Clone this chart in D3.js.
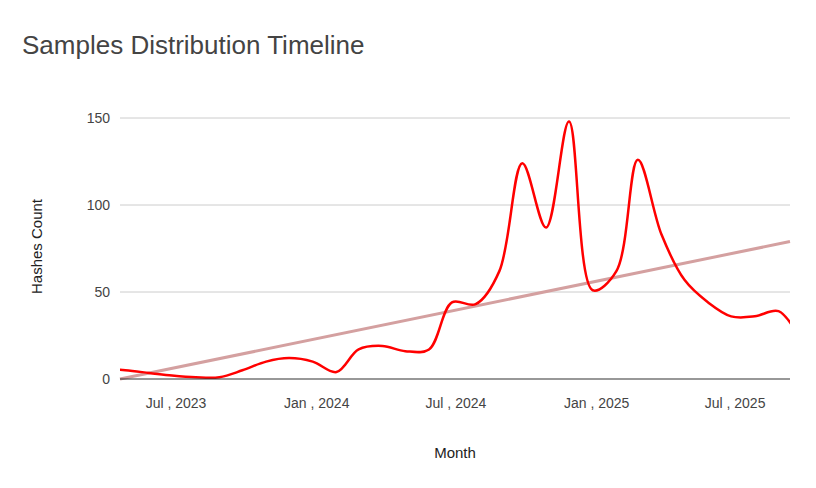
<!DOCTYPE html>
<html><head><meta charset="utf-8">
<script src="https://cdn.jsdelivr.net/npm/d3@7"></script>
<style>body{margin:0;background:#fff;font-family:"Liberation Sans",Arial,sans-serif}</style>
</head><body>
<script>
// monthly sample counts, Apr 2023 .. Oct 2025
const months = ["2023-04","2023-05","2023-06","2023-07","2023-08","2023-09","2023-10","2023-11","2023-12",
  "2024-01","2024-02","2024-03","2024-04","2024-05","2024-06","2024-07","2024-08","2024-09","2024-10","2024-11","2024-12",
  "2025-01","2025-02","2025-03","2025-04","2025-05","2025-06","2025-07","2025-08","2025-09","2025-10"];
const counts = [6,5,3.5,2,1,1,5,10,12,10,4,17,19,16,17,44,43,62,124,87,148,51,62,126,83,57,44,36,36,39,22];
const trendValues = [0, 79];
const yTicks = [0, 50, 100, 150];
const xTicks = ["2023-07","2024-01","2024-07","2025-01","2025-07"];

const W = 816, H = 488;
const mLeft = 120, mRight = 790, mTop = 118, mBottom = 379;
const parse = d3.timeParse("%Y-%m");
const fmt = d3.timeFormat("%b , %Y");

const x = d3.scaleTime()
  .domain([new Date(2023, 3, 24), new Date(2025, 8, 16)])
  .range([mLeft, mRight]);
const y = d3.scaleLinear().domain([0, 150]).range([mBottom, mTop]);

const svg = d3.select("body").append("svg").attr("width", W).attr("height", H);

svg.append("text").attr("x", 22).attr("y", 54)
  .style("font-size", "26px").style("fill", "#444").text("Samples Distribution Timeline");

// gridlines
svg.selectAll(".grid").data(yTicks.filter(d => d > 0)).enter().append("line")
  .attr("x1", mLeft).attr("x2", mRight)
  .attr("y1", d => y(d)).attr("y2", d => y(d))
  .attr("stroke", "#ccc");

svg.selectAll(".ylab").data(yTicks).enter().append("text")
  .attr("x", mLeft - 10).attr("y", d => y(d) + 5)
  .attr("text-anchor", "end").style("font-size", "14px").style("fill", "#444")
  .text(d => d);

svg.selectAll(".xlab").data(xTicks).enter().append("text")
  .attr("x", d => x(parse(d)) + 4).attr("y", 408)
  .attr("text-anchor", "middle").style("font-size", "14px").style("fill", "#444")
  .text(d => fmt(parse(d)));

svg.append("defs").append("clipPath").attr("id", "clip")
  .append("rect").attr("x", mLeft).attr("y", 0).attr("width", mRight - mLeft).attr("height", mBottom + 2);

const data = months.map((m, i) => ({ date: parse(m), v: counts[i] }));
const dom = x.domain();

// trendline
svg.append("line")
  .attr("x1", x(dom[0])).attr("x2", x(dom[1]))
  .attr("y1", y(trendValues[0])).attr("y2", y(trendValues[1]))
  .attr("stroke", "#d4a0a0").attr("stroke-width", 3);

svg.append("path").datum(data)
  .attr("clip-path", "url(#clip)")
  .attr("fill", "none").attr("stroke", "#ff0000").attr("stroke-width", 2.5)
  .attr("d", d3.line().x(d => x(d.date)).y(d => y(d.v)).curve(d3.curveCatmullRom.alpha(0.5)));

// baseline
svg.append("line").attr("x1", mLeft).attr("x2", mRight)
  .attr("y1", mBottom).attr("y2", mBottom).attr("stroke", "#333").attr("stroke-width", 1.2);

svg.append("text").attr("transform", `translate(42,${(mTop + mBottom) / 2 - 2}) rotate(-90)`)
  .attr("text-anchor", "middle").style("font-size", "15px").style("fill", "#222").text("Hashes Count");
svg.append("text").attr("x", 455).attr("y", 458)
  .attr("text-anchor", "middle").style("font-size", "15px").style("fill", "#222").text("Month");
</script>
</body></html>
